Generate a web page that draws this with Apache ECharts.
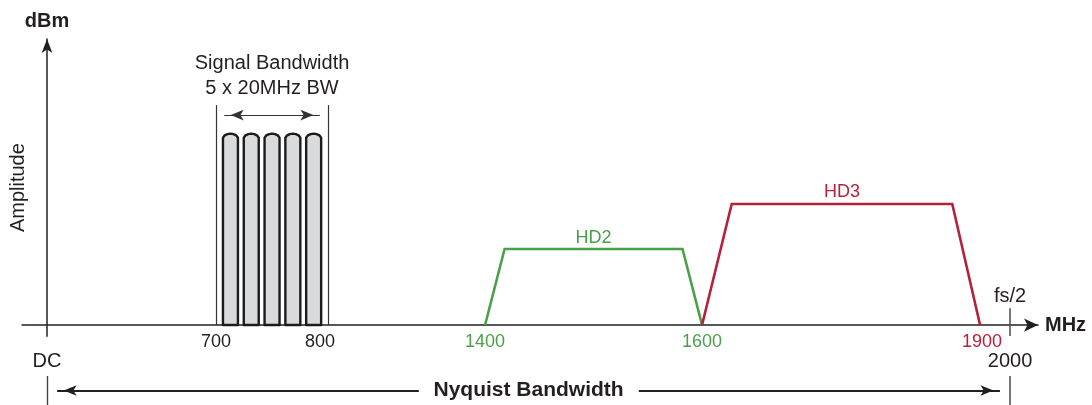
<!DOCTYPE html>
<html>
<head>
<meta charset="utf-8">
<script src="https://cdn.jsdelivr.net/npm/echarts@6/dist/echarts.min.js"></script>
<style>
html,body{margin:0;padding:0;background:#fff;}
#chart{width:1092px;height:405px;}
</style>
</head>
<body>
<div id="chart"></div>
<script>
// ---------------- DATA (frequency in MHz, amplitude in relative units) ----------------
const channelCenters   = [710, 730, 750, 770, 790];          // 5 x 20 MHz carriers
const channelAmplitude = [65.5, 65.5, 65.5, 65.5, 65.5];
const channelWidth     = 20;
const signalBandEdges  = [696, 804];                          // bracket lines around the signal
const signalBandHeight = 76.9;
const signalArrowFreqs = [704, 796];
const signalArrowLevel = 73.4;
const signalLabelLevel = 87.1;

const hd2Freq = [1400, 1418, 1582, 1600];
const hd2Amp  = [0, 26.6, 26.6, 0];
const hd3Freq = [1600, 1632, 1870, 1900];
const hd3Amp  = [0, 42.3, 42.3, 0];

const tickFreqs   = [700, 800, 1400, 1600, 1900];
const tickLabels  = ['700', '800', '1400', '1600', '1900'];
const edgeFreqs   = [0, 2000];
const edgeLabels  = ['DC', '2000'];
const fsHalfFreq  = 2000;
const fsHalfRange = [-3.8, 5.9];

// ---------------- SCHEMATIC (non-linear) FREQUENCY AXIS ----------------
// The drawing is not to scale: frequencies are mapped piecewise onto the axis.
const warpFreq = [0, 690, 810, 1400, 1600, 1900, 2000];
const warpPos  = [0, 337.7, 596.9, 909.7, 1360.3, 1937.7, 2000];
function warp(f) {
  let i = 0;
  while (i < warpFreq.length - 2 && f > warpFreq[i + 1]) i++;
  const t = (f - warpFreq[i]) / (warpFreq[i + 1] - warpFreq[i]);
  return warpPos[i] + t * (warpPos[i + 1] - warpPos[i]);
}
const X_MIN = -52, X_MAX = 2058;

// ---------------- STYLE ----------------
const FONT  = "'Liberation Sans', Arial, Helvetica, sans-serif";
const INK   = '#231f20';
const GREEN = '#4aa049';
const RED   = '#b5203a';
const GRAY  = '#555555';
const tickColor = {700: INK, 800: INK, 1400: GREEN, 1600: GREEN, 1900: RED};
const tickNudge = {700: -4, 800: -4, 1400: 0, 1600: 0, 1900: 2};

const rich = {};
tickFreqs.forEach(f => {
  const n = tickNudge[f] || 0;
  rich['t' + f] = {
    color: tickColor[f], fontSize: 18, fontFamily: FONT, lineHeight: 18,
    padding: n < 0 ? [0, -2 * n, 0, 0] : [0, 0, 0, 2 * n]
  };
});
function labelFor(freqs, labels, v, useRich) {
  for (let i = 0; i < freqs.length; i++) {
    if (Math.abs(warp(freqs[i]) - v) < 0.01) {
      return useRich ? '{t' + freqs[i] + '|' + labels[i] + '}' : labels[i];
    }
  }
  return '';
}

const arrowEnd = (coord, sym) => ({
  coord: coord, symbol: sym, symbolSize: [8, 13], symbolOffset: [0, '50%']
});

const chart = echarts.init(document.getElementById('chart'), null, {renderer: 'canvas'});
chart.setOption({
  animation: false,
  backgroundColor: '#ffffff',
  textStyle: {fontFamily: FONT},
  grid: [
    {left: 22, right: 54, top: 39, bottom: 68.8, outerBoundsMode: 'none'},
    {left: 22, right: 54, top: 376, bottom: 0, outerBoundsMode: 'none'},
    {left: 47, right: 54, top: 39, bottom: 68.8, outerBoundsMode: 'none'}
  ],
  xAxis: [
    {
      gridIndex: 0, type: 'value', min: X_MIN, max: X_MAX,
      axisLine: {show: true, onZero: true, symbol: ['none', 'arrow'], symbolSize: [10, 14],
                 lineStyle: {color: INK, width: 1.5}},
      axisTick: {show: false}, splitLine: {show: false},
      axisLabel: {
        customValues: tickFreqs.map(warp), margin: -3, fontSize: 18, color: INK, fontFamily: FONT,
        formatter: v => labelFor(tickFreqs, tickLabels, v, true), rich: rich
      },
      name: 'MHz', nameLocation: 'end', nameGap: 7, nameMoveOverlap: false,
      nameTextStyle: {fontWeight: 'bold', fontSize: 20, color: INK, fontFamily: FONT, verticalAlign: 'middle'}
    },
    {
      gridIndex: 1, type: 'value', min: X_MIN, max: X_MAX, position: 'top',
      axisLine: {show: false}, axisTick: {show: false}, splitLine: {show: false},
      axisLabel: {
        customValues: edgeFreqs.map(warp), margin: 5, fontSize: 20, color: INK, fontFamily: FONT,
        formatter: v => labelFor(edgeFreqs, edgeLabels, v, false)
      }
    },
    {gridIndex: 2, type: 'value', min: 0, max: 1, show: false}
  ],
  yAxis: [
    {
      gridIndex: 0, type: 'value', min: -3.9, max: 100,
      axisLine: {show: true, onZero: true, symbol: ['none', 'arrow'], symbolSize: [8, 14],
                 lineStyle: {color: INK, width: 1.5}},
      axisTick: {show: false}, axisLabel: {show: false}, splitLine: {show: false},
      name: 'dBm', nameLocation: 'end', nameGap: 8, nameMoveOverlap: false,
      nameTextStyle: {fontWeight: 'bold', fontSize: 20, color: INK, fontFamily: FONT, align: 'center'}
    },
    {gridIndex: 1, type: 'value', min: 0, max: 1, show: false},
    {
      gridIndex: 2, type: 'value', min: 0, max: 1,
      axisLine: {show: false}, axisTick: {show: false}, axisLabel: {show: false}, splitLine: {show: false},
      name: 'Amplitude', nameLocation: 'middle', nameGap: 19, nameMoveOverlap: false,
      nameTextStyle: {fontSize: 20, color: INK, fontFamily: FONT}
    }
  ],
  series: [
    {
      name: 'Signal', type: 'custom', xAxisIndex: 0, yAxisIndex: 0,
      encode: {x: 0, y: 1},
      data: channelCenters.map((c, i) => [
        warp(c), channelAmplitude[i],
        warp(c - channelWidth * 0.36), warp(c + channelWidth * 0.36)
      ]),
      renderItem: (params, api) => {
        const bl = api.coord([api.value(2), 0]);
        const tr = api.coord([api.value(3), api.value(1)]);
        const l = bl[0], r = tr[0], b = bl[1], t = tr[1], w = r - l, m = (l + r) / 2, cap = 4;
        return {
          type: 'polygon',
          shape: {points: [[l, b], [l, t], [l + w * 0.12, t - cap * 0.6], [l + w * 0.3, t - cap * 0.9],
                           [m, t - cap], [r - w * 0.3, t - cap * 0.9], [r - w * 0.12, t - cap * 0.6],
                           [r, t], [r, b]]},
          style: {fill: '#d9dadb', stroke: '#1c1c1c', lineWidth: 2.4, lineJoin: 'round'}
        };
      },
      markLine: {
        silent: true, symbol: 'none', label: {show: false}, animation: false,
        lineStyle: {color: '#333333', width: 1.2, type: 'solid'},
        data: [
          [{coord: [warp(signalBandEdges[0]), 0]}, {coord: [warp(signalBandEdges[0]), signalBandHeight]}],
          [{coord: [warp(signalBandEdges[1]), 0]}, {coord: [warp(signalBandEdges[1]), signalBandHeight]}],
          [arrowEnd([warp(signalArrowFreqs[0]), signalArrowLevel], 'arrow'),
           arrowEnd([warp(signalArrowFreqs[1]), signalArrowLevel], 'arrow')]
        ]
      },
      markPoint: {
        silent: true, symbol: 'circle', symbolSize: 1, itemStyle: {color: 'rgba(0,0,0,0)'},
        data: [{
          coord: [warp(750), signalLabelLevel],
          label: {show: true, position: 'inside', formatter: 'Signal Bandwidth\n5 x 20MHz BW',
                  fontSize: 20, lineHeight: 25, color: INK, fontFamily: FONT}
        }]
      }
    },
    {
      name: 'HD2', type: 'line', xAxisIndex: 0, yAxisIndex: 0,
      data: hd2Freq.map((f, i) => [warp(f), hd2Amp[i]]),
      showSymbol: false, symbol: 'none',
      lineStyle: {color: GREEN, width: 2.6, join: 'miter'},
      markPoint: {
        silent: true, symbol: 'circle', symbolSize: 1, itemStyle: {color: 'rgba(0,0,0,0)'},
        data: [{
          coord: [warp((hd2Freq[1] + hd2Freq[2]) / 2), hd2Amp[1]],
          label: {show: true, position: 'inside', offset: [0, -11], formatter: 'HD2',
                  fontSize: 18, color: GREEN, fontFamily: FONT}
        }]
      }
    },
    {
      name: 'HD3', type: 'line', xAxisIndex: 0, yAxisIndex: 0,
      data: hd3Freq.map((f, i) => [warp(f), hd3Amp[i]]),
      showSymbol: false, symbol: 'none',
      lineStyle: {color: RED, width: 2.6, join: 'miter'},
      markPoint: {
        silent: true, symbol: 'circle', symbolSize: 1, itemStyle: {color: 'rgba(0,0,0,0)'},
        data: [{
          coord: [warp((hd3Freq[1] + hd3Freq[2]) / 2), hd3Amp[1]],
          label: {show: true, position: 'inside', offset: [0, -12], formatter: 'HD3',
                  fontSize: 18, color: RED, fontFamily: FONT}
        }]
      },
      markLine: {
        silent: true, symbol: 'none', animation: false,
        lineStyle: {color: GRAY, width: 1.6, type: 'solid'},
        label: {show: true, position: 'end', distance: 2, formatter: 'fs/2',
                fontSize: 20, color: INK, fontFamily: FONT},
        data: [[{coord: [warp(fsHalfFreq), fsHalfRange[0]]}, {coord: [warp(fsHalfFreq), fsHalfRange[1]]}]]
      }
    },
    {
      name: 'Nyquist', type: 'line', xAxisIndex: 1, yAxisIndex: 1, data: [],
      markLine: {
        silent: true, symbol: 'none', animation: false, label: {show: false},
        lineStyle: {color: INK, width: 2, type: 'solid'},
        data: [
          {xAxis: warp(edgeFreqs[0]), lineStyle: {color: '#444', width: 1.4}},
          {xAxis: warp(edgeFreqs[1]), lineStyle: {color: GRAY, width: 1.6}},
          [arrowEnd([21, 0.5], 'arrow'), {coord: [772, 0.5], symbol: 'none'}],
          [{coord: [1229, 0.5], symbol: 'none'}, arrowEnd([1979, 0.5], 'arrow')]
        ]
      },
      markPoint: {
        silent: true, symbol: 'circle', symbolSize: 1, itemStyle: {color: 'rgba(0,0,0,0)'},
        data: [{
          coord: [1000, 0.5],
          label: {show: true, position: 'inside', formatter: 'Nyquist Bandwidth',
                  fontSize: 21, fontWeight: 'bold', color: INK, fontFamily: FONT}
        }]
      }
    }
  ]
});
</script>
</body>
</html>
